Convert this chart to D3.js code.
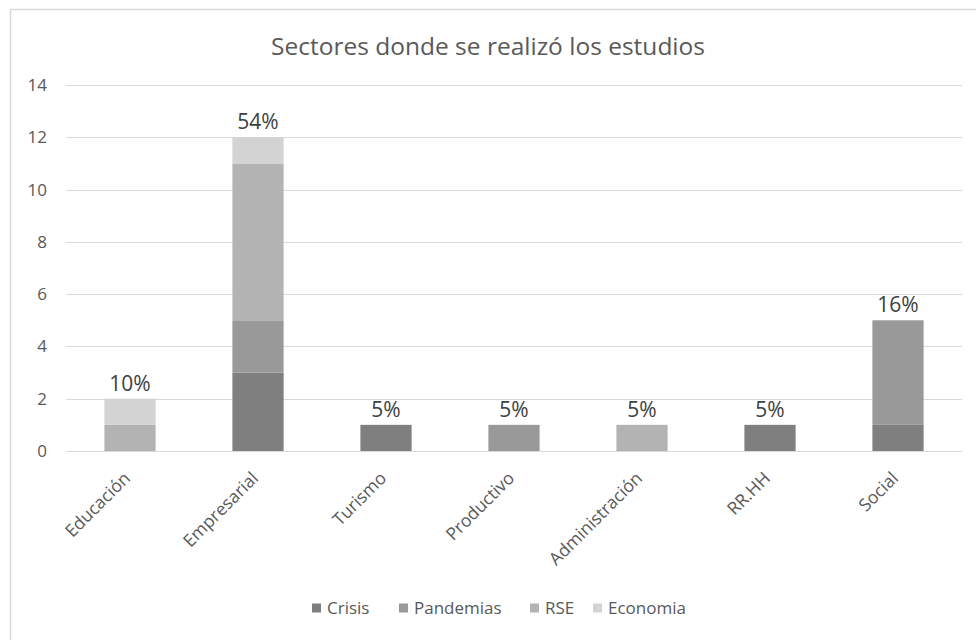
<!DOCTYPE html>
<html>
<head>
<meta charset="utf-8">
<script src="https://cdn.jsdelivr.net/npm/d3@7"></script>
<style>
  body { margin: 0; background: #fff; }
  text { font-family: "Open Sans", "Liberation Sans", sans-serif; }
</style>
</head>
<body>
<div id="chart"></div>
<script>
// data
var categories = ['Educación', 'Empresarial', 'Turismo', 'Productivo', 'Administración', 'RR.HH', 'Social'];
var seriesNames = ['Crisis', 'Pandemias', 'RSE', 'Economia'];
var crisis    = [0, 3, 1, 0, 0, 1, 1];
var pandemias = [0, 2, 0, 1, 0, 0, 4];
var rse       = [1, 6, 0, 0, 1, 0, 0];
var economia  = [1, 1, 0, 0, 0, 0, 0];
var pctLabels = ['10%', '54%', '5%', '5%', '5%', '5%', '16%'];
var yTicks = [0, 2, 4, 6, 8, 10, 12, 14];
var colors = ['#7f7f7f', '#999999', '#b3b3b3', '#d3d3d3'];

var W = 976, H = 640;
var margin = { left: 66, right: 14, top: 85, bottom: 189 };

var svg = d3.select('#chart').append('svg')
    .attr('width', W)
    .attr('height', H);

// outer chart border (cut at right/bottom like the screenshot)
svg.append('rect')
    .attr('x', 10.5).attr('y', 9.5)
    .attr('width', 1000).attr('height', 700)
    .attr('fill', 'none')
    .attr('stroke', '#d9d9d9')
    .attr('stroke-width', 1.5);

var x = d3.scaleBand()
    .domain(categories)
    .range([margin.left, W - margin.right])
    .paddingInner(0.6)
    .paddingOuter(0.3);

var y = d3.scaleLinear()
    .domain([0, 14])
    .range([H - margin.bottom, margin.top]);

// gridlines
svg.append('g')
    .selectAll('line')
    .data(yTicks)
    .join('line')
    .attr('x1', margin.left)
    .attr('x2', W - margin.right)
    .attr('y1', d => Math.round(y(d)) + 0.5)
    .attr('y2', d => Math.round(y(d)) + 0.5)
    .attr('stroke', '#d9d9d9')
    .attr('stroke-width', 1);

// y axis labels
var yAxis = svg.append('g')
    .attr('transform', 'translate(' + (margin.left - 19) + ',0)')
    .call(d3.axisLeft(y).tickValues(yTicks).tickSize(0).tickPadding(0));
yAxis.select('.domain').remove();
yAxis.selectAll('text')
    .attr('fill', '#595959')
    .style('font-family', '"Open Sans", sans-serif')
    .style('font-size', '17px');

// stacked bars
var rows = categories.map((c, i) => ({
    cat: c, Crisis: crisis[i], Pandemias: pandemias[i], RSE: rse[i], Economia: economia[i]
}));
var stacked = d3.stack().keys(seriesNames)(rows);

svg.append('g')
    .selectAll('g')
    .data(stacked)
    .join('g')
    .attr('fill', (d, i) => colors[i])
    .selectAll('rect')
    .data(d => d.filter(s => s[1] > s[0]))
    .join('rect')
    .attr('x', d => x(d.data.cat))
    .attr('width', x.bandwidth())
    .attr('y', d => y(d[1]))
    .attr('height', d => y(d[0]) - y(d[1]));

// percentage labels above each column
svg.append('g')
    .selectAll('text')
    .data(rows)
    .join('text')
    .attr('x', d => x(d.cat) + x.bandwidth() / 2)
    .attr('y', d => y(d.Crisis + d.Pandemias + d.RSE + d.Economia) - 8)
    .attr('text-anchor', 'middle')
    .attr('fill', '#404040')
    .style('font-size', '21px')
    .text((d, i) => pctLabels[i]);

// category labels, rotated
svg.append('g')
    .selectAll('text')
    .data(categories)
    .join('text')
    .attr('transform', d => 'translate(' + (x(d) + x.bandwidth() / 2 - 3) + ',' + (y(0) + 24) + ') rotate(-45)')
    .attr('text-anchor', 'end')
    .attr('dy', '0.35em')
    .attr('fill', '#595959')
    .style('font-size', '17.5px')
    .text(d => d);

// title
svg.append('text')
    .attr('x', 488)
    .attr('y', 55)
    .attr('text-anchor', 'middle')
    .attr('fill', '#595959')
    .style('font-size', '24.5px')
    .text('Sectores donde se realizó los estudios');

// legend
var legendX = [312, 399, 530, 593];
var legend = svg.append('g')
    .selectAll('g')
    .data(seriesNames)
    .join('g')
    .attr('transform', (d, i) => 'translate(' + legendX[i] + ',608)');
legend.append('rect')
    .attr('x', 0).attr('y', -4.5)
    .attr('width', 9).attr('height', 9)
    .attr('fill', (d, i) => colors[i]);
legend.append('text')
    .attr('x', 15)
    .attr('dy', '0.35em')
    .attr('fill', '#595959')
    .style('font-size', '17px')
    .text(d => d);
</script>
</body>
</html>
